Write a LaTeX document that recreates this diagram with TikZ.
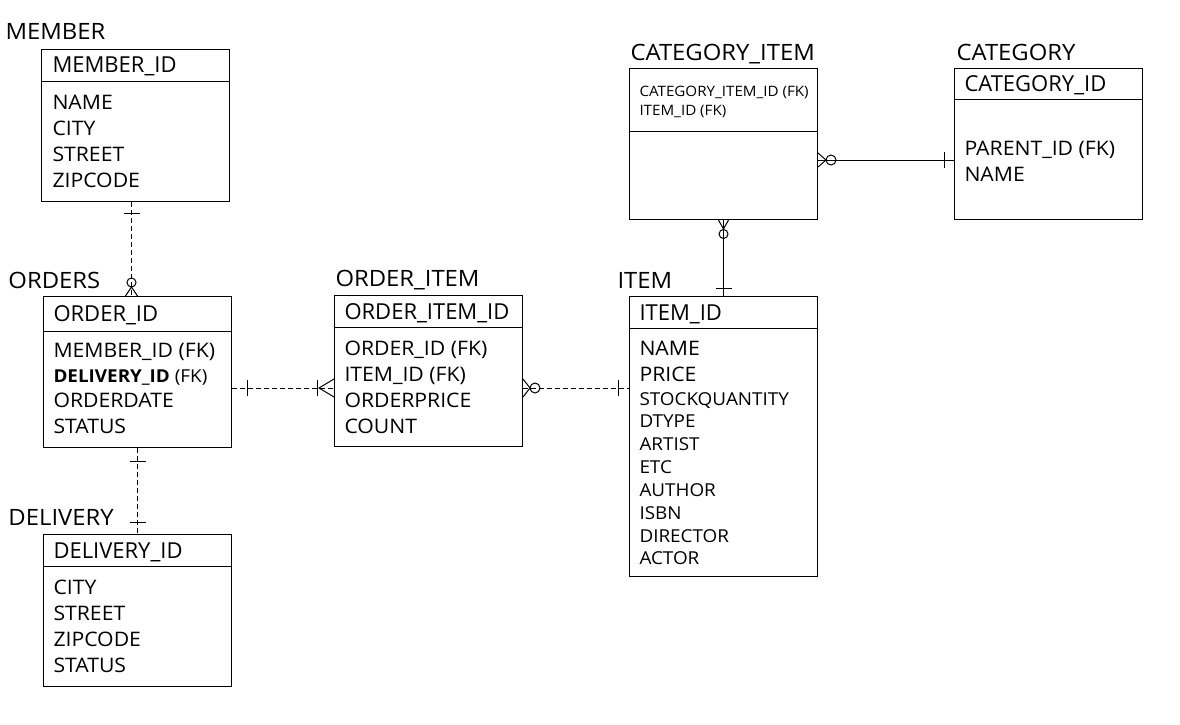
\documentclass[tikz,border=0pt]{standalone}
\usepackage{fontspec}
\setmainfont{Open Sans}[FakeStretch=1.06]
\newfontfamily\hdrfont{Open Sans}
\usepackage{tikz}
\usetikzlibrary{positioning,calc}

\tikzset{
  entity/.style={draw, anchor=north west, minimum width=188pt, inner sep=0pt},
  title/.style={anchor=base west, inner sep=0pt, font=\fontsize{22.5}{27}\selectfont},
  hdr/.style={anchor=base west, inner sep=0pt, font=\hdrfont\fontsize{22}{26}\selectfont},
  field/.style={anchor=base west, inner sep=0pt, font=\fontsize{20}{24}\selectfont},
  smallfield/.style={anchor=base west, inner sep=0pt, font=\fontsize{17.8}{21}\selectfont},
  tinyfield/.style={anchor=base west, inner sep=0pt, font=\fontsize{14.3}{17}\selectfont},
  nonid/.style={dash pattern=on 5pt off 3pt},
}

\begin{document}
\begin{tikzpicture}[x=1pt, y=-1pt, line width=1pt]
    \useasboundingbox (0,0) rectangle (1180,725);

    % MEMBER
    \node[title] (member-t) at (5,40) {MEMBER};
    \node[entity, minimum height=152pt] (member) at (41,49) {};
    \draw ([yshift=-32]member.north west) -- ([yshift=-32]member.north east);
    \node[hdr] (member-h) at (52,73) {MEMBER\_ID};
    \foreach \f [count=\i] in {NAME,CITY,STREET,ZIPCODE}
        \node[field] (member-\i) at (52,{109+26.3*(\i-1)}) {\f};

    % ORDERS
    \node[title] (orders-t) at (8,288) {ORDERS};
    \node[entity, minimum height=151pt] (orders) at (43,296) {};
    \draw ([yshift=-35]orders.north west) -- ([yshift=-35]orders.north east);
    \node[hdr] (orders-h) at (53,321) {ORDER\_ID};
    \node[field] (orders-1) at (53,357) {MEMBER\_ID (FK)};
    \node[smallfield] (orders-2) at (53,382) {\textbf{DELIVERY\_ID} (FK)};
    \node[field] (orders-3) at (53,407) {ORDERDATE};
    \node[field] (orders-4) at (53,433) {STATUS};

    % DELIVERY
    \node[title] (delivery-t) at (8,525) {DELIVERY};
    \node[entity, minimum height=152pt] (delivery) at (43,534) {};
    \draw ([yshift=-32]delivery.north west) -- ([yshift=-32]delivery.north east);
    \node[hdr] (delivery-h) at (53,558) {DELIVERY\_ID};
    \foreach \f [count=\i] in {CITY,STREET,ZIPCODE,STATUS}
        \node[field] (delivery-\i) at (53,{594+26.3*(\i-1)}) {\f};

    % ORDER_ITEM
    \node[title] (orderitem-t) at (335,286) {ORDER\_ITEM};
    \node[entity, minimum height=151pt] (orderitem) at (334,295) {};
    \draw ([yshift=-32]orderitem.north west) -- ([yshift=-32]orderitem.north east);
    \node[hdr] (orderitem-h) at (344,319) {ORDER\_ITEM\_ID};
    \foreach \f [count=\i] in {ORDER\_ID (FK),ITEM\_ID (FK),ORDERPRICE,COUNT}
        \node[field] (orderitem-\i) at (344,{355+26.3*(\i-1)}) {\f};

    % ITEM
    \node[title] (item-t) at (617,288) {ITEM};
    \node[entity, minimum height=280pt] (item) at (629,296) {};
    \draw ([yshift=-32]item.north west) -- ([yshift=-32]item.north east);
    \node[hdr] (item-h) at (639,320) {ITEM\_ID};
    \node[field] (item-1) at (639,355) {NAME};
    \node[field] (item-2) at (639,381) {PRICE};
    \foreach \f [count=\i] in {STOCKQUANTITY,DTYPE,ARTIST,ETC,AUTHOR,ISBN,DIRECTOR,ACTOR}
        \node[smallfield] (item-s\i) at (639,{405+22.85*(\i-1)}) {\f};

    % CATEGORY_ITEM
    \node[title] (catitem-t) at (630,60) {CATEGORY\_ITEM};
    \node[entity, minimum height=151pt] (catitem) at (629,68) {};
    \draw ([yshift=-63]catitem.north west) -- ([yshift=-63]catitem.north east);
    \node[tinyfield] (catitem-1) at (639,96) {CATEGORY\_ITEM\_ID (FK)};
    \node[tinyfield] (catitem-2) at (639,115) {ITEM\_ID (FK)};

    % CATEGORY
    \node[title] (category-t) at (956,60) {CATEGORY};
    \node[entity, minimum height=151pt] (category) at (954,68) {};
    \draw ([yshift=-31]category.north west) -- ([yshift=-31]category.north east);
    \node[hdr] (category-h) at (964,92) {CATEGORY\_ID};
    \node[field] (category-1) at (964,155) {PARENT\_ID (FK)};
    \node[field] (category-2) at (964,181) {NAME};

    % MEMBER - ORDERS
    \draw[nonid] ([xshift=-4]member.south) coordinate (mo1) -- (mo1 |- orders.north) coordinate (mo2);
    \draw (mo1) ++(-8,11) -- ++(16,0);
    \draw (mo2) ++(0,-13.5) circle[radius=4.5pt];
    \draw (mo2) ++(-6,0) -- ++(6,-9) -- ++(6,9);

    % ORDERS - DELIVERY
    \draw[nonid] (orders.south) coordinate (od1) -- (delivery.north) coordinate (od2);
    \draw (od1) ++(-8,13) -- ++(16,0);
    \draw (od2) ++(-8,-12) -- ++(16,0);

    % ORDERS - ORDER_ITEM
    \draw[nonid] ([yshift=-16]orders.east) coordinate (oi1) -- (oi1 -| orderitem.west) coordinate (oi2);
    \draw (oi1) ++(15,-8) -- ++(0,16);
    \draw (oi2) ++(-17,-8) -- ++(0,16);
    \draw (oi2) ++(0,-9) -- ++(-15,9) -- ++(15,9);

    % ORDER_ITEM - ITEM
    \draw[nonid] (oi1 -| orderitem.east) coordinate (ii1) -- (oi1 -| item.west) coordinate (ii2);
    \draw (ii1) ++(0,-9) -- ++(7,9) -- ++(-7,9);
    \draw (ii1) ++(12,0) circle[radius=5pt];
    \draw (ii2) ++(-11,-8) -- ++(0,16);

    % CATEGORY_ITEM - ITEM
    \draw (catitem.south) coordinate (ci1) -- (item.north) coordinate (ci2);
    \draw (ci1) ++(-5,0) -- ++(5,9) -- ++(5,-9);
    \draw (ci1) ++(0,14) circle[radius=4.5pt];
    \draw (ci2) ++(-8,-8) -- ++(16,0);

    % CATEGORY_ITEM - CATEGORY
    \draw ([yshift=-16]catitem.east) coordinate (cc1) -- (cc1 -| category.west) coordinate (cc2);
    \draw (cc1) ++(0,-7) -- ++(8,7) -- ++(-8,7);
    \draw (cc1) ++(13,0) circle[radius=5pt];
    \draw (cc2) ++(-10,-8) -- ++(0,16);
\end{tikzpicture}
\end{document}
